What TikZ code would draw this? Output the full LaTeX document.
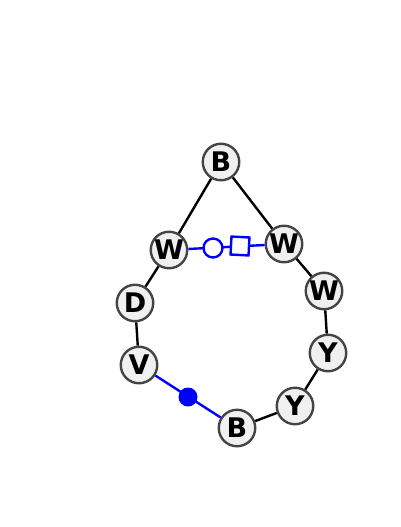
\documentclass[tikz,border=0pt]{standalone}
\usepackage{fontspec}
\setmainfont{DejaVu Sans}
\definecolor{nodefill}{HTML}{F0F0F0}
\definecolor{nodeedge}{HTML}{444444}
\begin{document}
\begin{tikzpicture}[x=1pt,y=-1pt,
  res/.style={circle,draw=nodeedge,fill=nodefill,line width=2.4pt,minimum size=36.5pt,inner sep=0pt,font=\bfseries\fontsize{27}{27}\selectfont},
  bond/.style={line width=2.4pt,black},
  blue bond/.style={line width=2.4pt,blue}]
\useasboundingbox (0,0) rectangle (400,527);
\node[res] (b1) at (221,162) {B};
\node[res] (w1) at (169,250) {W};
\node[res] (w2) at (284,244) {W};
\node[res] (w3) at (324,291) {W};
\node[res] (y1) at (328,353) {Y};
\node[res] (y2) at (295,406) {Y};
\node[res] (b2) at (237,428) {B};
\node[res] (v1) at (139,365) {V};
\node[res] (d1) at (135,303) {D};
\coordinate (oc) at (213,248);
\coordinate (sq) at (240,246);
\coordinate (fc) at (188,397);
\draw[bond] (b1) -- (w1);
\draw[bond] (b1) -- (w2);
\draw[bond] (w1) -- (d1);
\draw[bond] (d1) -- (v1);
\draw[bond] (w2) -- (w3);
\draw[bond] (w3) -- (y1);
\draw[bond] (y1) -- (y2);
\draw[bond] (y2) -- (b2);
\draw[blue bond] (v1) -- (b2);
\draw[blue bond] (w1) -- (w2);
\node[circle,fill=blue,minimum size=19pt,inner sep=0pt] (fdot) at (fc) {};
\node[circle,draw=blue,fill=white,line width=2.4pt,minimum size=19pt,inner sep=0pt] (odot) at (oc) {};
\node[rectangle,draw=blue,fill=white,line width=2.4pt,minimum size=18pt,inner sep=0pt,rotate=-3] (osq) at (sq) {};
\end{tikzpicture}
\end{document}
